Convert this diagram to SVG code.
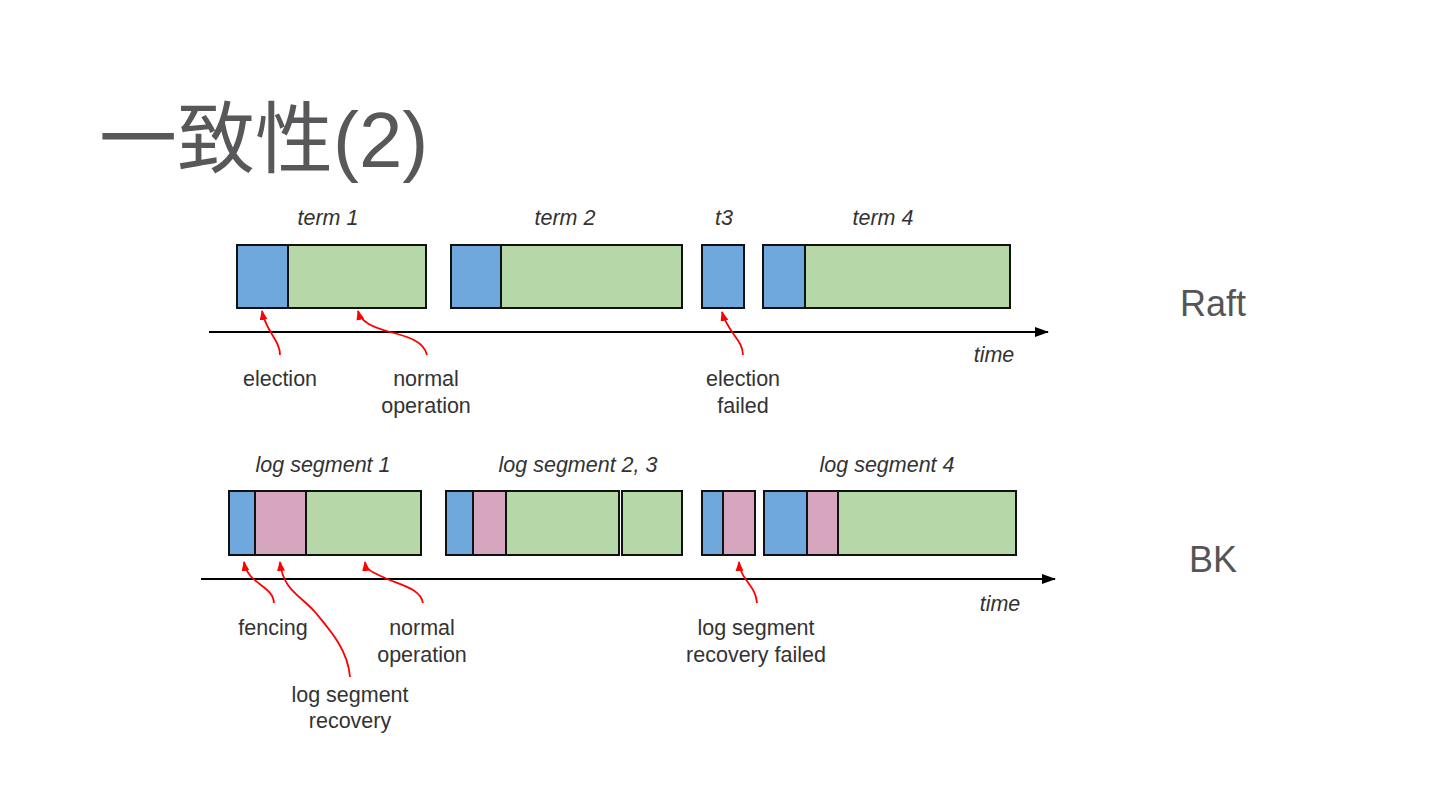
<svg xmlns="http://www.w3.org/2000/svg" width="1440" height="810" viewBox="0 0 1440 810">
  <defs>
    <marker id="redHead" markerUnits="userSpaceOnUse" markerWidth="10" markerHeight="8" refX="9" refY="4" orient="auto">
      <path d="M0,0 L10,4 L0,8 z" fill="#ff0000"/>
    </marker>
    <marker id="blackHead" markerUnits="userSpaceOnUse" markerWidth="14" markerHeight="10" refX="13" refY="5" orient="auto">
      <path d="M0,0 L14,5 L0,10 z" fill="#000"/>
    </marker>
  </defs>
  <style>
    .title { font-family: "Liberation Sans", "Noto Sans CJK SC", sans-serif; font-size: 78px; fill: #58585a; }
    .side { font-family: "Liberation Sans", Arial, sans-serif; font-size: 36px; fill: #555; }
    .lbl { font-family: "Liberation Sans", Arial, sans-serif; font-size: 21.5px; fill: #333; text-anchor: middle; }
    .it { font-style: italic; }
    .blue { fill: #6fa8dc; stroke: #111; stroke-width: 2; }
    .green { fill: #b6d7a8; stroke: #111; stroke-width: 2; }
    .pink { fill: #d5a6bd; stroke: #111; stroke-width: 2; }
    .axis { stroke: #000; stroke-width: 2; fill: none; }
    .red { stroke: #ff0000; stroke-width: 1.8; fill: none; }
  </style>
  <rect width="1440" height="810" fill="#ffffff"/>
  <text class="title" x="99" y="167">一致性(2)</text>
  <text class="side" x="1180" y="316">Raft</text>
  <text class="side" x="1189" y="572">BK</text>

  <!-- Raft row -->
  <g id="term1">
    <rect class="green" x="237" y="245" width="189" height="63"/>
    <rect class="blue" x="237" y="245" width="51" height="63"/>
    <text class="lbl it" x="328" y="225">term 1</text>
  </g>
  <g id="term2">
    <rect class="green" x="451" y="245" width="231" height="63"/>
    <rect class="blue" x="451" y="245" width="50" height="63"/>
    <text class="lbl it" x="565" y="225">term 2</text>
  </g>
  <g id="t3">
    <rect class="blue" x="702" y="245" width="42" height="63"/>
    <text class="lbl it" x="724" y="225">t3</text>
  </g>
  <g id="term4">
    <rect class="green" x="763" y="245" width="247" height="63"/>
    <rect class="blue" x="763" y="245" width="42" height="63"/>
    <text class="lbl it" x="883" y="225">term 4</text>
  </g>
  <g id="raft-labels">
    <text class="lbl it" x="994" y="362">time</text>
    <text class="lbl" x="280" y="386">election</text>
    <text class="lbl" x="426" y="386">normal</text>
    <text class="lbl" x="426" y="413">operation</text>
    <text class="lbl" x="743" y="386">election</text>
    <text class="lbl" x="743" y="413">failed</text>
  </g>

  <!-- BK row -->
  <g id="seg1">
    <rect class="green" x="229" y="491" width="192" height="64"/>
    <rect class="pink" x="255" y="491" width="51" height="64"/>
    <rect class="blue" x="229" y="491" width="26" height="64"/>
    <text class="lbl it" x="323" y="472">log segment 1</text>
  </g>
  <g id="seg23">
    <rect class="green" x="446" y="491" width="173" height="64"/>
    <rect class="pink" x="473" y="491" width="33" height="64"/>
    <rect class="blue" x="446" y="491" width="27" height="64"/>
    <rect class="green" x="622" y="491" width="60" height="64"/>
    <text class="lbl it" x="578" y="472">log segment 2, 3</text>
  </g>
  <g id="segfail">
    <rect class="pink" x="702" y="491" width="53" height="64"/>
    <rect class="blue" x="702" y="491" width="21" height="64"/>
  </g>
  <g id="seg4">
    <rect class="green" x="764" y="491" width="252" height="64"/>
    <rect class="pink" x="807" y="491" width="31" height="64"/>
    <rect class="blue" x="764" y="491" width="43" height="64"/>
    <text class="lbl it" x="887" y="472">log segment 4</text>
  </g>
  <g id="bk-labels">
    <text class="lbl it" x="1000" y="611">time</text>
    <text class="lbl" x="273" y="635">fencing</text>
    <text class="lbl" x="422" y="635">normal</text>
    <text class="lbl" x="422" y="662">operation</text>
    <text class="lbl" x="350" y="702">log segment</text>
    <text class="lbl" x="350" y="728">recovery</text>
    <text class="lbl" x="756" y="635">log segment</text>
    <text class="lbl" x="756" y="662">recovery failed</text>
  </g>

  <g id="connectors">
    <path class="axis" d="M209,332 L1048,332" marker-end="url(#blackHead)"/>
    <path class="axis" d="M201,579 L1055,579" marker-end="url(#blackHead)"/>
    <path class="red" d="M280,355 C280,340 266,332 262,311" marker-end="url(#redHead)"/>
    <path class="red" d="M427,355 C424,342 410,337 390,332 C372,327 361,322 358,311" marker-end="url(#redHead)"/>
    <path class="red" d="M743,355 C743,340 728,333 722,312" marker-end="url(#redHead)"/>
    <path class="red" d="M274,603 C273,585 248,585 244,562" marker-end="url(#redHead)"/>
    <path class="red" d="M350,677 C348,650 330,630 315,612 C300,595 283,590 280,562" marker-end="url(#redHead)"/>
    <path class="red" d="M423,603 C420,588 400,585 385,578 C372,572 366,570 365,562" marker-end="url(#redHead)"/>
    <path class="red" d="M757,603 C756,585 740,580 739,562" marker-end="url(#redHead)"/>
  </g>
</svg>
